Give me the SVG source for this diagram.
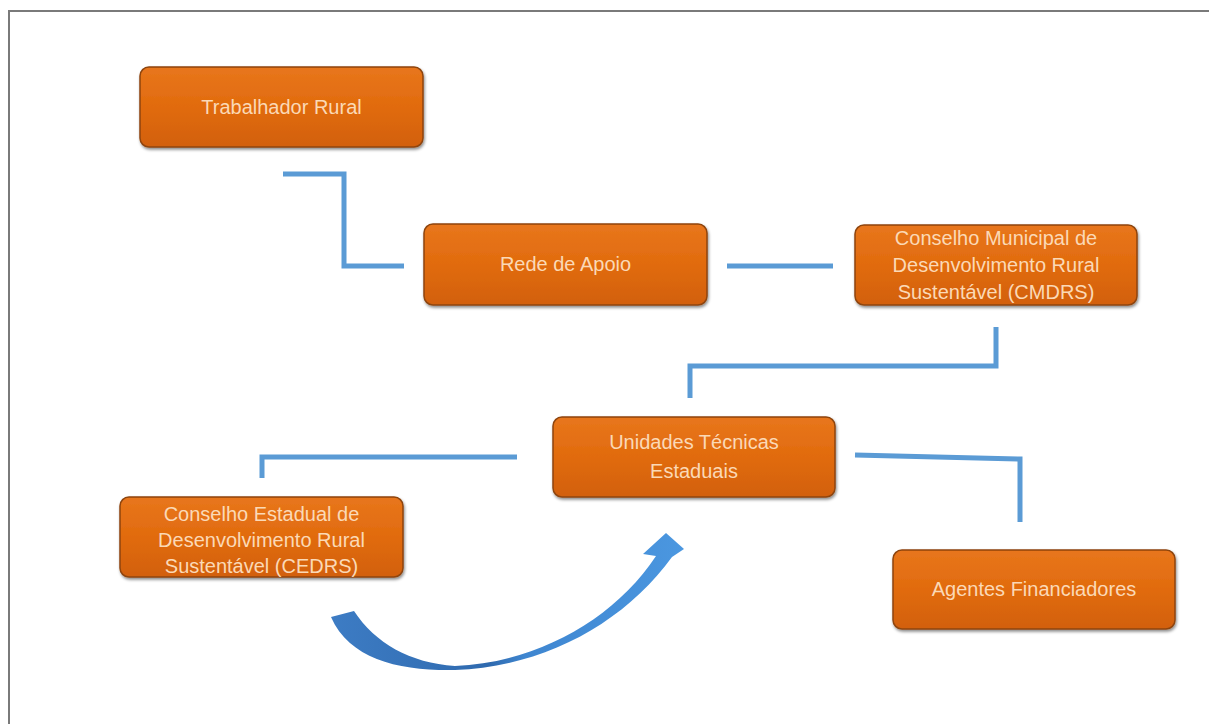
<svg xmlns="http://www.w3.org/2000/svg" width="1209" height="724" viewBox="0 0 1209 724">
<style>
.box{fill:url(#og);stroke:#8e440e;stroke-width:1.5;filter:url(#sh)}
.t{font-family:"Liberation Sans",Arial,sans-serif;font-size:20px;fill:#fbd9b6;text-anchor:middle}
.c{fill:none;stroke:#5b9bd5;stroke-width:5;stroke-linejoin:miter}
</style>
<defs>
<linearGradient id="og" x1="0" y1="0" x2="0" y2="1">
<stop offset="0" stop-color="#e8761c"/>
<stop offset="0.5" stop-color="#e16b0e"/>
<stop offset="1" stop-color="#d2600a"/>
</linearGradient>
<linearGradient id="bg" x1="0" y1="0" x2="1" y2="0">
<stop offset="0" stop-color="#3d7cc4"/>
<stop offset="0.45" stop-color="#2f6aaf"/>
<stop offset="0.55" stop-color="#3f86d0"/>
<stop offset="1" stop-color="#4b97e0"/>
</linearGradient>
<filter id="sh" x="-10%" y="-10%" width="120%" height="130%">
<feDropShadow dx="1" dy="2" stdDeviation="1.5" flood-color="#000" flood-opacity="0.45"/>
</filter>
</defs>
<rect width="1209" height="724" fill="#fff"/>
<path d="M9,724 V11 H1209" fill="none" stroke="#7a7a7a" stroke-width="2"/>
<g id="connectors">
<polyline class="c" points="283,174 344,174 344,266 404,266"/>
<line class="c" x1="727" y1="266" x2="833" y2="266"/>
<polyline class="c" points="996,327 996,366 690,366 690,398"/>
<polyline class="c" points="517,457 262,457 262,478"/>
<polyline class="c" points="855,455 1020,459 1020,522"/>
<path id="curved-arrow" d="M331,617 C350,660 400,671 455,670 C545,667 625,622 672,557 L684,549 L666,533 L643,554 L656,556 C615,618 540,662 455,666 C410,663 375,643 354,611 Z" fill="url(#bg)"/>
</g>
<g id="trabalhador">
<rect class="box" x="140" y="67" width="283" height="80" rx="9"/>
<text class="t" x="281.5" y="114">Trabalhador Rural</text>
</g>
<g id="rede">
<rect class="box" x="424" y="224" width="283" height="81" rx="9"/>
<text class="t" x="565.5" y="271">Rede de Apoio</text>
</g>
<g id="cmdrs">
<rect class="box" x="855" y="225" width="282" height="80" rx="9"/>
<text class="t" x="996" y="245">Conselho Municipal de</text>
<text class="t" x="996" y="272">Desenvolvimento Rural</text>
<text class="t" x="996" y="299">Sustentável (CMDRS)</text>
</g>
<g id="unidades">
<rect class="box" x="553" y="417" width="282" height="80" rx="9"/>
<text class="t" x="694" y="449">Unidades Técnicas</text>
<text class="t" x="694" y="478">Estaduais</text>
</g>
<g id="cedrs">
<rect class="box" x="120" y="497" width="283" height="80" rx="9"/>
<text class="t" x="261.5" y="521">Conselho Estadual de</text>
<text class="t" x="261.5" y="547">Desenvolvimento Rural</text>
<text class="t" x="261.5" y="573">Sustentável (CEDRS)</text>
</g>
<g id="agentes">
<rect class="box" x="893" y="550" width="282" height="79" rx="9"/>
<text class="t" x="1034" y="596">Agentes Financiadores</text>
</g>
</svg>
